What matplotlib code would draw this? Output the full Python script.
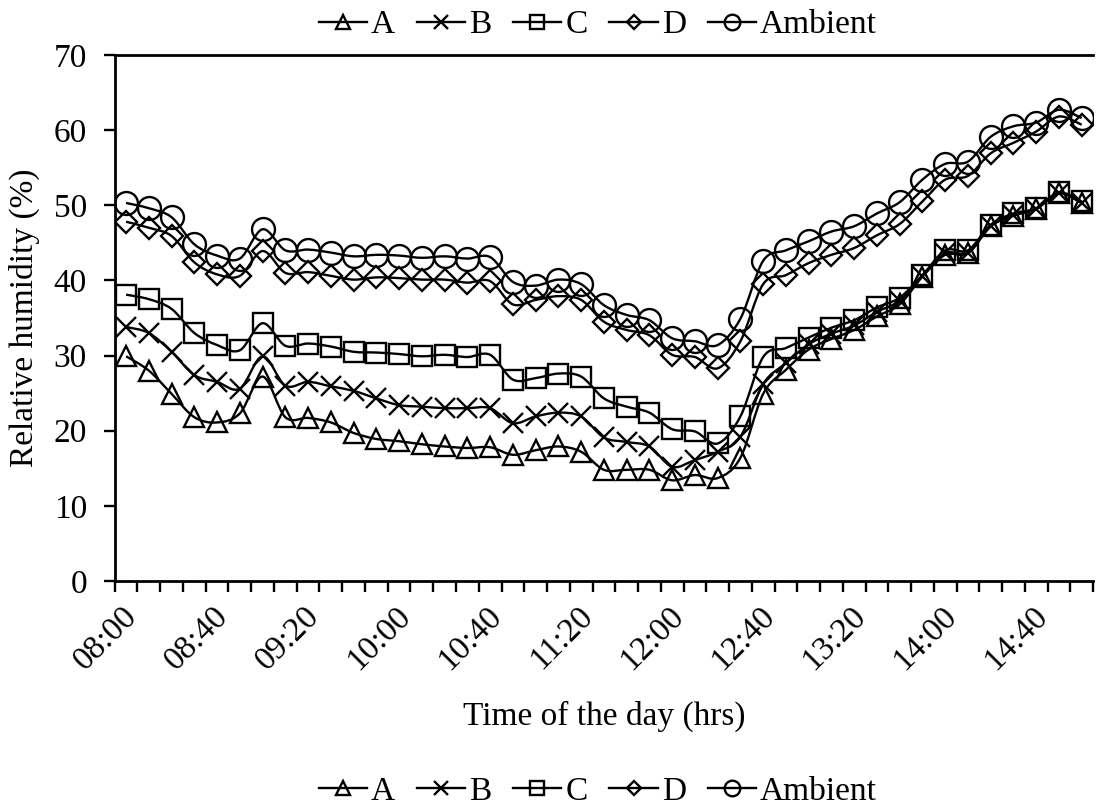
import numpy as np
import matplotlib
matplotlib.use("Agg")
import matplotlib.pyplot as plt
from matplotlib.path import Path
from matplotlib.patches import PathPatch
from matplotlib.lines import Line2D

plt.rcParams['font.family'] = ['Liberation Serif', 'DejaVu Serif']

# 10-minute readings, 08:00 to 15:00
tick_labels = ['08:00', '08:40', '09:20', '10:00', '10:40', '11:20',
               '12:00', '12:40', '13:20', '14:00', '14:40']

rh_a = [29.9, 28.0, 24.9, 21.8, 21.1, 22.3, 27.2, 21.8, 21.7, 21.1,
        19.7, 18.9, 18.6, 18.2, 17.9, 17.7, 17.8, 16.8, 17.4, 17.9,
        17.2, 14.8, 14.8, 14.8, 13.4, 14.1, 13.7, 16.4, 24.9, 28.1,
        30.8, 32.2, 33.4, 35.2, 36.8, 40.5, 43.4, 43.6, 47.2, 48.6,
        49.5, 51.6, 50.3]
rh_b = [33.8, 33.0, 30.5, 27.4, 26.5, 25.6, 29.9, 26.0, 26.5, 25.9,
        25.3, 24.3, 23.4, 23.2, 23.0, 23.0, 23.0, 21.0, 21.9, 22.4,
        21.9, 19.1, 18.5, 17.9, 15.2, 16.1, 17.2, 19.2, 26.2, 29.0,
        31.5, 32.9, 34.0, 35.8, 37.3, 40.6, 43.6, 43.7, 47.2, 48.7,
        49.5, 51.6, 50.3]
rh_c = [38.1, 37.5, 36.2, 33.0, 31.4, 30.7, 34.3, 31.3, 31.6, 31.2,
        30.5, 30.4, 30.2, 29.9, 30.1, 29.8, 30.1, 26.8, 27.0, 27.6,
        27.2, 24.3, 23.2, 22.4, 20.2, 19.9, 18.3, 21.9, 29.8, 31.0,
        32.4, 33.7, 34.7, 36.4, 37.7, 40.7, 44.0, 44.0, 47.4, 48.9,
        49.6, 51.7, 50.5]
rh_d = [47.8, 47.0, 45.9, 42.4, 40.8, 40.6, 43.9, 41.0, 41.1, 40.6,
        40.1, 40.4, 40.3, 40.1, 40.1, 39.7, 39.9, 36.8, 37.4, 37.9,
        37.4, 34.5, 33.4, 32.7, 30.1, 29.8, 28.3, 31.9, 39.5, 40.7,
        42.3, 43.4, 44.3, 46.0, 47.5, 50.5, 53.4, 53.9, 56.9, 58.3,
        59.8, 61.8, 60.7]
rh_amb = [50.3, 49.6, 48.4, 44.8, 43.3, 42.9, 46.8, 44.0, 44.1, 43.7,
          43.2, 43.4, 43.3, 43.0, 43.2, 42.9, 43.1, 39.8, 39.3, 40.1,
          39.5, 36.7, 35.4, 34.7, 32.3, 31.9, 31.4, 34.9, 42.6, 44.0,
          45.2, 46.5, 47.2, 48.9, 50.4, 53.4, 55.5, 55.8, 59.1, 60.5,
          61.0, 62.7, 61.6]

series = [('A', rh_a, '^', 15), ('B', rh_b, 'x', 14), ('C', rh_c, 's', 15),
          ('D', rh_d, 'D', 11), ('Ambient', rh_amb, 'o', 16.5)]


def smooth_path(x, y):
    # Excel-like smoothed line: Catmull-Rom segments as cubic Beziers
    pts = np.column_stack([x, y])
    n = len(pts)
    verts = [pts[0]]
    codes = [Path.MOVETO]
    for i in range(n - 1):
        p0 = pts[i - 1] if i > 0 else pts[i]
        p1, p2 = pts[i], pts[i + 1]
        p3 = pts[i + 2] if i + 2 < n else pts[i + 1]
        verts += [p1 + (p2 - p0) / 6, p2 - (p3 - p1) / 6, p2]
        codes += [Path.CURVE4] * 3
    return Path(verts, codes)


fig = plt.figure(figsize=(11.03, 8.07), dpi=100)
ax = fig.add_axes([0.104, 0.280, 0.887, 0.652])

x = np.arange(len(rh_a)) + 0.5
handles = []
for name, vals, mk, ms in series:
    ax.add_patch(PathPatch(smooth_path(x, vals), facecolor='none',
                           edgecolor='black', lw=1.7, zorder=2))
    ax.plot(x, vals, ls='none', marker=mk, ms=ms, mfc='none', mec='black',
            mew=1.7, zorder=3)
    handles.append(Line2D([], [], color='black', lw=1.7, marker=mk,
                          ms=ms * 0.68, mfc='none', mec='black', mew=1.7,
                          label=name))

ax.set_xlim(0, len(rh_a))
ax.set_ylim(0, 70)
ax.set_yticks(range(0, 71, 10))

# category boundaries carry the tick marks, labels sit beside them
ax.set_xticks(np.arange(0, len(rh_a) + 1))
ax.set_xticklabels([])
ax.set_xticks(np.arange(0, len(rh_a), 4) + 0.8, minor=True)
ax.set_xticklabels(tick_labels, minor=True, rotation=45, ha='right',
                   rotation_mode='anchor', va='center')

ax.tick_params(axis='both', which='major', direction='out', length=8,
               width=1.7, labelsize=24)
ax.tick_params(axis='y', pad=12)
ax.tick_params(axis='x', which='minor', length=0, labelsize=24, pad=22)

for s in ['left', 'bottom', 'top']:
    ax.spines[s].set_linewidth(2)
ax.spines['right'].set_visible(False)

ax.set_ylabel('Relative humidity (%)', fontsize=24, labelpad=10)
ax.set_xlabel('Time of the day (hrs)', fontsize=24, labelpad=18)

leg_kw = dict(ncol=5, frameon=False, fontsize=24, handlelength=1.45,
              handletextpad=0.12, columnspacing=0.65, borderaxespad=0)
fig.legend(handles=handles, loc='center', bbox_to_anchor=(0.542, 0.969),
           **leg_kw)
fig.legend(handles=handles, loc='center', bbox_to_anchor=(0.542, 0.019),
           **leg_kw)

fig.savefig('out.png', dpi=100)
